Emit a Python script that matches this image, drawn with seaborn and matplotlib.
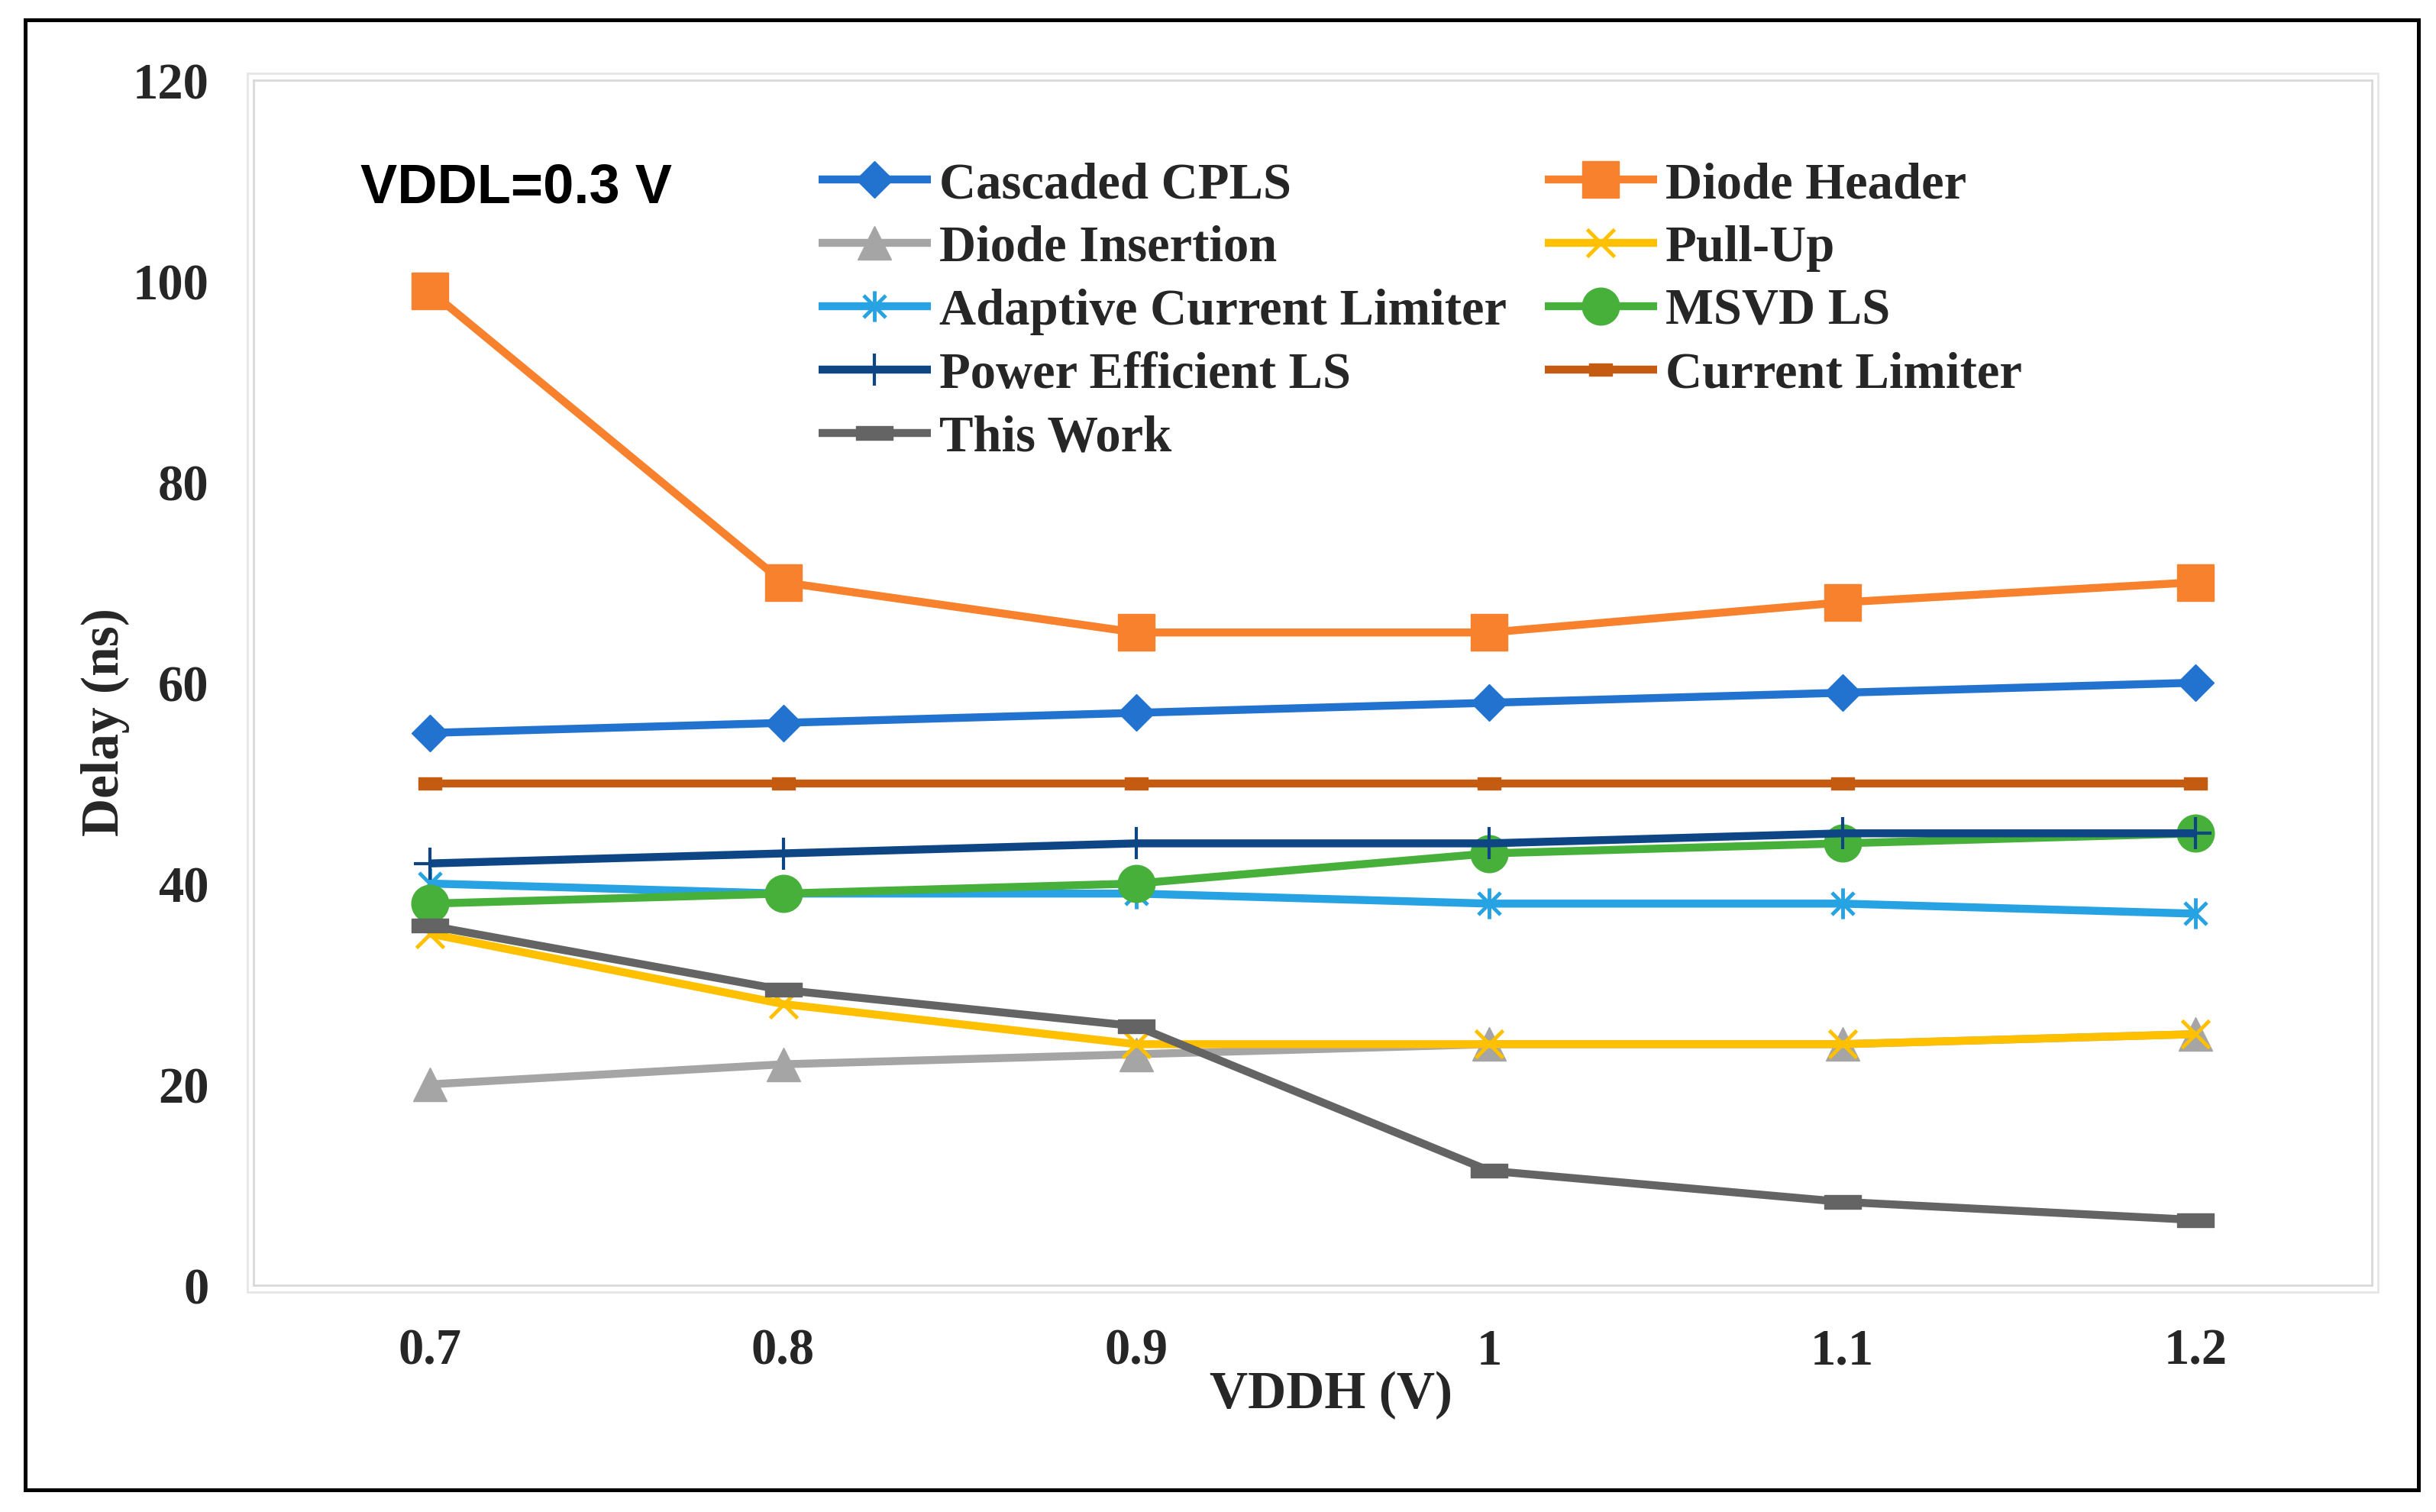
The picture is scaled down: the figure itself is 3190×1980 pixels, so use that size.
import numpy as np
import pandas as pd
import matplotlib
matplotlib.use("Agg")
import matplotlib.pyplot as plt
from matplotlib.path import Path
from matplotlib.patches import Rectangle
import seaborn as sns

# data
vddh = [0.7, 0.8, 0.9, 1.0, 1.1, 1.2]
vddh_labels = ["0.7", "0.8", "0.9", "1", "1.1", "1.2"]
y_ticks = [0, 20, 40, 60, 80, 100, 120]

cascaded_cpls = [55, 56, 57, 58, 59, 60]
diode_header = [99, 70, 65, 65, 68, 70]
diode_insertion = [20, 22, 23, 24, 24, 25]
pull_up = [35, 28, 24, 24, 24, 25]
adaptive_cl = [40, 39, 39, 38, 38, 37]
msvd_ls = [38, 39, 40, 43, 44, 45]
power_eff_ls = [42, 43, 44, 44, 45, 45]
current_limiter = [50, 50, 50, 50, 50, 50]
this_work = [35.8, 29.4, 25.8, 11.4, 8.3, 6.5]

series_names = ["Cascaded CPLS", "Diode Header", "Diode Insertion", "Pull-Up",
                "Adaptive Current Limiter", "MSVD LS", "Power Efficient LS",
                "Current Limiter", "This Work"]
series_values = [cascaded_cpls, diode_header, diode_insertion, pull_up,
                 adaptive_cl, msvd_ls, power_eff_ls, current_limiter, this_work]

df = pd.DataFrame({
    "VDDH": np.tile(vddh, len(series_names)),
    "Delay": np.concatenate(series_values),
    "Series": np.repeat(series_names, len(vddh)),
})

# custom markers (Excel style)
M, L, C = Path.MOVETO, Path.LINETO, Path.CLOSEPOLY
asterisk = Path([(0, -1), (0, 1), (-0.72, -0.72), (0.72, 0.72), (-0.72, 0.72), (0.72, -0.72)],
                [M, L, M, L, M, L])
long_dash = Path([(-1.4, -0.5), (1.4, -0.5), (1.4, 0.5), (-1.4, 0.5), (-1.4, -0.5)],
                 [M, L, L, L, C])
short_dash = Path([(-0.9, -0.5), (0.9, -0.5), (0.9, 0.5), (-0.9, 0.5), (-0.9, -0.5)],
                  [M, L, L, L, C])

styles = {
    "Cascaded CPLS": dict(color="#2272CF", marker="D", markersize=24, mew=1),
    "Diode Header": dict(color="#F7812D", marker="s", markersize=34, mew=1),
    "Diode Insertion": dict(color="#A5A5A5", marker="^", markersize=31, mew=1),
    "Pull-Up": dict(color="#FFC000", marker="x", markersize=26, mew=3.5),
    "Adaptive Current Limiter": dict(color="#27A2E2", marker=asterisk, markersize=29, mew=3.5),
    "MSVD LS": dict(color="#47B03B", marker="o", markersize=35, mew=1),
    "Power Efficient LS": dict(color="#0E4585", marker="+", markersize=30, mew=3),
    "Current Limiter": dict(color="#C55A11", marker=short_dash, markersize=22, mew=1),
    "This Work": dict(color="#646464", marker=long_dash, markersize=35, mew=1),
}

sns.set_theme(style="white")
plt.rcParams["font.family"] = ["Liberation Serif", "DejaVu Serif"]
plt.rcParams["font.weight"] = "bold"

W, H = 3190, 1981
fig = plt.figure(figsize=(W / 100, H / 100), dpi=100)
fig.patch.set_facecolor("white")
ax = fig.add_axes([332 / W, 1 - 1684 / H, (3106 - 332) / W, (1684 - 106) / H])

for name in series_names:
    st = styles[name]
    sns.lineplot(data=df[df["Series"] == name], x="VDDH", y="Delay", ax=ax,
                 color=st["color"], marker=st["marker"], markersize=st["markersize"],
                 markeredgewidth=st["mew"], markeredgecolor=st["color"],
                 markerfacecolor=st["color"], label=name)

# set the width on the lines directly so the legend copies it too
for line in ax.lines:
    line.set_linewidth(7.5)
    line.set_solid_capstyle("butt")

ax.set_xlim(0.65, 1.25)
ax.set_ylim(0, 120)
ax.set_xticks(vddh)
ax.set_xticklabels(vddh_labels)
ax.set_yticks(y_ticks)
ax.tick_params(axis="both", length=0, labelsize=48)
ax.tick_params(axis="y", pad=42)
ax.tick_params(axis="x", pad=40)
for lab in ax.get_xticklabels() + ax.get_yticklabels():
    lab.set_fontweight("bold")

ax.grid(False)
for sp in ax.spines.values():
    sp.set_color("#D9D9D9")
    sp.set_linewidth(2)
# second light border like Excel's plot area frame
ax.add_patch(Rectangle((-0.003, -0.006), 1.006, 1.012, transform=ax.transAxes,
                       fill=False, edgecolor="#E6E6E6", linewidth=2, clip_on=False))

ax.set_xlabel("VDDH (V)", fontsize=50, fontweight="bold", va="center")
ax.set_ylabel("Delay (ns)", fontsize=50, fontweight="bold", va="center")
ax.xaxis.set_label_coords(0.5087, -0.0906)
ax.yaxis.set_label_coords(-0.0699, 0.468)

ax.text(0.0505, 0.8992, "VDDL=0.3 V", transform=ax.transAxes, fontsize=52,
        family=["Liberation Sans", "DejaVu Sans"], fontweight="bold",
        ha="left", va="baseline", color="black")

handles, labels = ax.get_legend_handles_labels()
order = [series_names.index(n) for n in
         ["Cascaded CPLS", "Diode Insertion", "Adaptive Current Limiter",
          "Power Efficient LS", "This Work", "Diode Header", "Pull-Up",
          "MSVD LS", "Current Limiter"]]
ax.legend([handles[i] for i in order], [labels[i] for i in order],
          ncol=2, frameon=False, loc="upper left",
          bbox_to_anchor=(1072 / W, 1 - 212 / H), bbox_transform=fig.transFigure,
          borderpad=0, borderaxespad=0, labelspacing=0.33,
          handlelength=2.2, handletextpad=0.17, columnspacing=0.75,
          prop={"weight": "bold", "size": 48})

# outer black frame around the whole chart
fig.add_artist(Rectangle((33 / W, 1 - 1952 / H), (3167 - 33) / W, (1952 - 27) / H,
                         transform=fig.transFigure, fill=False,
                         edgecolor="black", linewidth=3.6))

fig.savefig("out.png", dpi=100, facecolor="white")
